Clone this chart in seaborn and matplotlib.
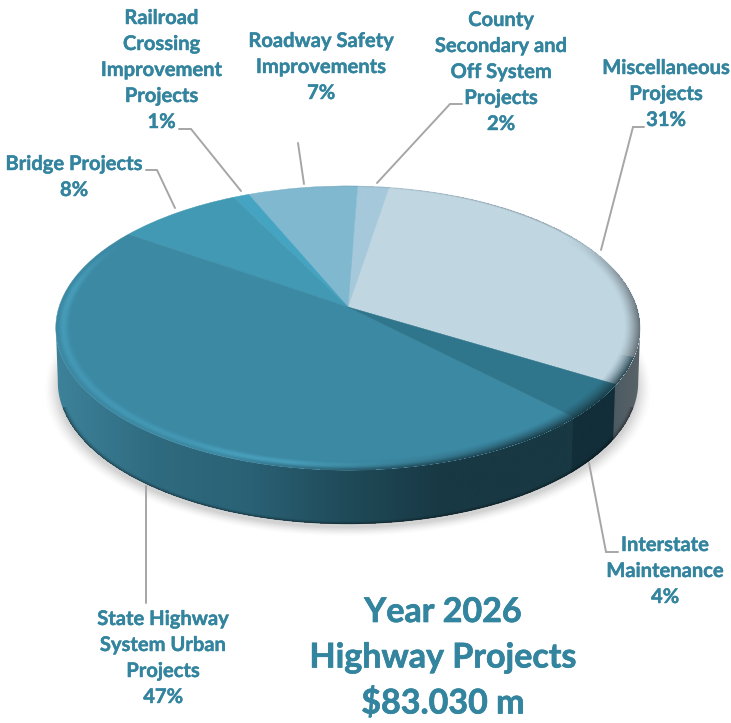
import numpy as np
import seaborn as sns
import matplotlib
matplotlib.use("Agg")
import matplotlib.pyplot as plt
import matplotlib.patheffects as pe
from matplotlib.patches import Polygon
from matplotlib.transforms import Transform

sns.set_theme(style="white")
plt.rcParams['font.family'] = ['Lato', 'DejaVu Sans']

# slices, counter clockwise from the interstate / misc border
names = ["Miscellaneous\nProjects", "County\nSecondary and\nOff System\nProjects",
         "Roadway Safety\nImprovements", "Railroad\nCrossing\nImprovement\nProjects",
         "Bridge Projects", "State Highway\nSystem Urban\nProjects", "Interstate\nMaintenance"]
shares = [31, 2, 7, 1, 8, 47, 4]
slice_colors = ["#c0d7e2", "#a5c9da", "#80b8cf", "#45a4c2", "#4199b4", "#3c89a4", "#2f758b"]
title_lines = ["Year 2026", "Highway Projects", "$83.030 m"]

# label centres in pixels (x, y of first line), same order as names
label_pos = [(666, 68), (501, 20), (321, 41), (161.5, 18), (74, 164), (163, 619), (665, 545)]
leaders = [[(601, 250), (633, 127), (644, 127)],
           [(377, 183), (450, 104), (462, 104)],
           [(304, 184), (298, 143)],
           [(241, 191), (191, 129), (179, 129)],
           [(175, 208), (157, 170), (146, 170)],
           [(146, 486), (146, 603)],
           [(589, 463), (606, 552), (618, 552)]]

# side wall colours, evenly spaced left to right over the pie
side_stops = {5: ["#3d8299", "#2f6b80", "#2a6175", "#1f4a58", "#183843", "#183843", "#183843"],
              6: ["#122e39", "#122e39"],
              0: ["#4c5a62", "#5a6469"]}

text_color = "#33849e"
line_color = "#a6a6a6"

W, H = 731, 723
cx, cy = 348, 307      # pie centre as seen on the picture
a, b, k = 289, 139, 0.148
depth = 54
x0, x1 = 56, 640


class Tilt(Transform):
    # flat pie coordinates to pixels, far edge smaller than near edge
    input_dims = 2
    output_dims = 2
    is_separable = False

    def transform_non_affine(self, xy):
        xy = np.asarray(xy)
        w = 1 + k * xy[:, 1]
        return np.column_stack([cx + a * xy[:, 0] / w, cy - b * xy[:, 1] / w])


tilt = Tilt()


def flat_coords(X, Y):
    yy = (cy - Y) / (b - k * (cy - Y))
    xx = (X - cx) * (1 + k * yy) / a
    return xx, yy


fig = plt.figure(figsize=(W / 100, H / 100), dpi=100)
ax = fig.add_axes([0, 0, 1, 1])
wedges, _ = ax.pie(shares, colors=slice_colors, startangle=-31, radius=1, center=(0, 0))
ax.set_aspect("auto")
ax.set_xlim(0, W)
ax.set_ylim(H, 0)
ax.axis("off")

for w in wedges:
    w.set_transform(tilt + ax.transData)
    w.set_edgecolor(w.get_facecolor())
    w.set_linewidth(0.3)
    w.set_zorder(3)

X, Y = np.meshgrid(np.arange(W) + 0.5, np.arange(H) + 0.5)
extent = (0, W, H, 0)

# soft shadow under the pie
sx, sy = flat_coords(cx + (X - cx) / 1.005, Y - depth - 6)
sr = np.hypot(sx, sy)
shadow = np.zeros((H, W, 4))
shadow[..., :3] = 0.45
shadow[..., 3] = 0.32 * np.clip((1.035 - sr) / 0.05, 0, 1) ** 1.5
ax.imshow(shadow, extent=extent, aspect="auto", zorder=1, interpolation="bilinear")

# the wall runs between the leftmost and rightmost points of the rim
all_th = np.radians(np.arange(0, 360, 0.5))
all_rim = tilt.transform(np.column_stack([np.cos(all_th), np.sin(all_th)]))
th_left = np.degrees(all_th[all_rim[:, 0].argmin()])
th_right = np.degrees(all_th[all_rim[:, 0].argmax()])
if th_right < 180:
    th_right += 360

# side wall of the front slices
grad = np.linspace(0, 1, 256).reshape(1, -1)
for i, stops in side_stops.items():
    t1, t2 = wedges[i].theta1 % 360, wedges[i].theta2 % 360
    if t2 < t1:
        t2 += 360
    if i == 0:
        # slice crosses zero, only its lower part is visible
        t1, t2 = wedges[i].theta1 + 360, th_right
    else:
        t1 = max(t1, th_left)
    th = np.radians(np.linspace(t1 - 0.5, t2 + (0.5 if i != 0 else 0), 160))
    rim = tilt.transform(np.column_stack([np.cos(th), np.sin(th)]))
    low = np.column_stack([cx + (rim[:, 0] - cx) * 0.993, rim[:, 1] + depth])
    wall = Polygon(np.vstack([rim, low[::-1]]), closed=True, transform=ax.transData)
    cmap = sns.blend_palette(stops, as_cmap=True)
    if len(stops) > 2:
        extent_w = (x0, x1, H, 0)
    else:
        extent_w = (min(rim[:, 0].min(), low[:, 0].min()), max(rim[:, 0].max(), low[:, 0].max()), H, 0)
    im = ax.imshow(grad, cmap=cmap, extent=extent_w, aspect="auto", zorder=2 + i * 0.01 if i != 0 else 2.2)
    im.set_clip_path(wall)

# dark lip on the bottom of the wall
lx, ly = flat_coords(cx + (X - cx) / 0.993, Y - depth)
lr = np.hypot(lx, ly)
fx, fy = flat_coords(X, Y)
fr = np.hypot(fx, fy)
lip = np.zeros((H, W, 4))
lip[..., 3] = np.where((lr <= 1) & (fr > 1) & (Y > cy + 100), 0.45 * np.clip((lr - 0.98) / 0.02, 0, 1) ** 2, 0)
ax.imshow(lip, extent=extent, aspect="auto", zorder=2.5, interpolation="bilinear")

# bevel on the top face, bright teal band on the left, fading to the wall colour on the right
theta = np.degrees(np.arctan2(fy, fx)) % 360
t = np.clip((fr - 0.945) / 0.055, 0, 1)
inside = fr <= 1
light = np.interp(theta, [150, 172, 205, 240, 260, 282, 300], [0, 0.55, 0.40, 0.40, 0.80, 0.25, 0])
dark = np.interp(theta, [0, 15, 34, 250, 275, 300, 360], [0.80, 0.55, 0, 0, 0.60, 0.9, 0.85])
edge = np.interp(theta, [30, 50, 90, 110], [0.35, 0.45, 0.15, 0]) * np.clip((fr - 0.985) / 0.015, 0, 1)

white = np.sin(np.pi * np.minimum(t * 1.1, 1) ** 1.3) ** 2 * light
black = np.maximum(t ** 1.4 * dark, edge)
alpha = np.where(inside, 1 - (1 - white) * (1 - black), 0)
mix = np.where(alpha > 0, white / np.maximum(white + black, 1e-6), 0)[..., None]
glow_rgb = np.array(matplotlib.colors.to_rgb("#50aecb"))
shade_teal = np.array(matplotlib.colors.to_rgb("#17353f"))
shade_grey = np.array(matplotlib.colors.to_rgb("#565f65"))
is_grey = ((theta < 90) | (theta > 340))[..., None]
shade = np.where(is_grey, shade_grey, np.where(theta[..., None] > 140, shade_teal, np.array([0.45, 0.45, 0.45])))
bevel = np.zeros((H, W, 4))
bevel[..., :3] = mix * glow_rgb + (1 - mix) * shade
bevel[..., 3] = alpha
ax.imshow(bevel, extent=extent, aspect="auto", zorder=4, interpolation="bilinear")

# leader lines
for pts in leaders:
    pts = np.array(pts)
    ax.plot(pts[:, 0], pts[:, 1], color=line_color, lw=1.4, solid_joinstyle="miter", zorder=5)

# labels, one text per line so spacing stays even
thick = [pe.withStroke(linewidth=0.3, foreground=text_color)]
for name, share, (lx0, ly0) in zip(names, shares, label_pos):
    lines = name.split("\n") + [f"{share}%"]
    for n, line in enumerate(lines):
        ax.text(lx0, ly0 + n * 26, line, color=text_color, fontsize=14.5, fontweight="bold",
                ha="center", va="center", zorder=6, path_effects=thick)

thick_big = [pe.withStroke(linewidth=0.5, foreground=text_color)]
for n, line in enumerate(title_lines):
    ax.text(443, 612 + n * 45.5, line, color=text_color, fontsize=24.5, fontweight="bold",
            ha="center", va="center", zorder=6, path_effects=thick_big)

ax.set_xlim(0, W)
ax.set_ylim(H, 0)
fig.savefig("out.png", dpi=100, facecolor="white")
